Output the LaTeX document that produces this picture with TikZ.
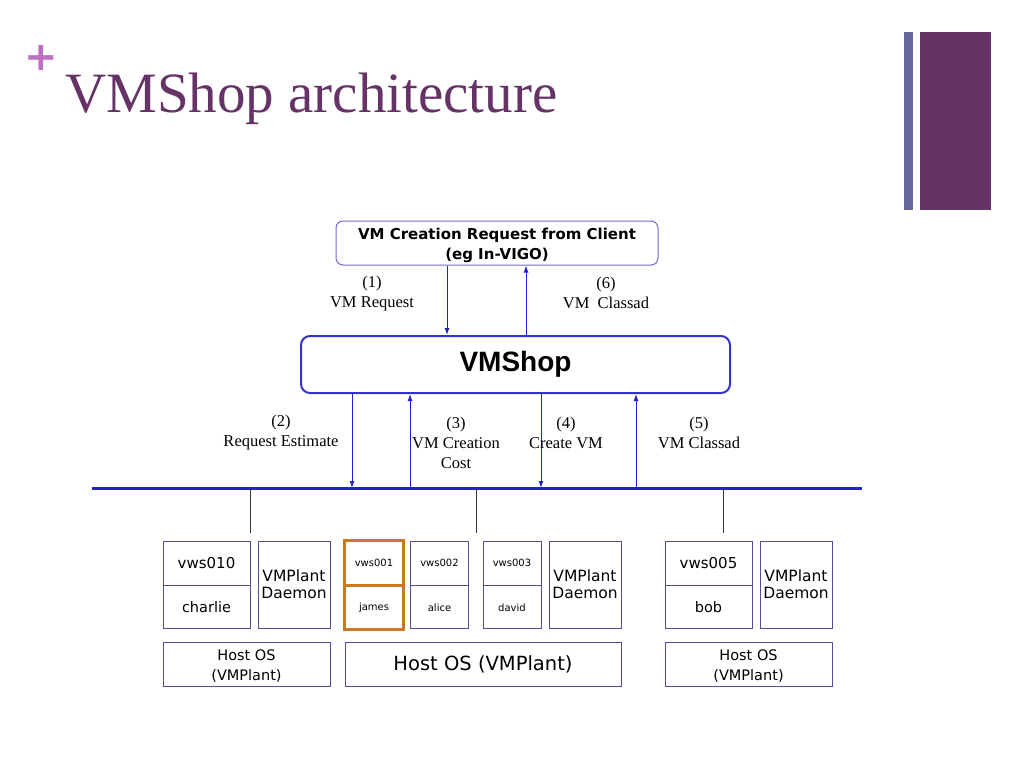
\documentclass[tikz,border=0pt]{standalone}
\usepackage{fontspec}
\setmainfont{Liberation Serif}
\setsansfont{DejaVu Sans}
\newfontfamily\arialfont{Liberation Sans}
\usetikzlibrary{arrows.meta,positioning}
\definecolor{titlepurple}{RGB}{102,51,102}
\definecolor{pluspink}{RGB}{187,112,192}
\definecolor{barblue}{RGB}{102,102,153}
\definecolor{clientblue}{RGB}{110,110,210}
\definecolor{shopblue}{RGB}{51,51,204}
\definecolor{busblue}{RGB}{34,34,204}
\definecolor{hostblue}{RGB}{80,80,150}
\definecolor{vmorange}{RGB}{204,119,34}
\newcommand{\fs}[2]{\fontsize{#1}{#2}\selectfont}
\tikzset{
  msg/.style={font=\fs{16.5}{20}, align=center, inner sep=0pt},
  flow/.style={draw=busblue, line width=1pt, -{Latex[length=7pt,width=5pt]}},
  hostbox/.style={draw=hostblue, line width=0.8pt, font=\sffamily\fs{14.5}{20}, align=center, inner sep=0pt},
  vmtop/.style={hostbox, minimum height=44pt},
  vmbot/.style={hostbox, minimum height=43pt},
  daemon/.style={hostbox, minimum width=72pt, minimum height=87pt, font=\sffamily\fs{15.5}{17}},
  drop/.style={draw=black!80, line width=0.6pt}
}
\begin{document}
\begin{tikzpicture}[x=1pt, y=-1pt]
\useasboundingbox[fill=white] (0,0) rectangle (1024,768);
%title and bars
\node[text=pluspink, font=\sffamily\bfseries\fs{40}{40}, inner sep=0pt] (plus) at (41,58){+};
\node[anchor=base west, text=titlepurple, font=\fs{57}{57}, inner sep=0pt] (title) at (65,112){VMShop architecture};
\fill[barblue] (904,32) rectangle (913,210);
\fill[titlepurple] (920,32) rectangle (991,210);
%client and shop
\node[draw=clientblue, line width=1pt, rounded corners=7pt, minimum width=322pt, minimum height=44pt,
  font=\sffamily\bfseries\fs{15}{20}, align=center, inner sep=0pt] (client) at (497,243)
  {\rule{0pt}{17pt}VM Creation Request from Client\\(eg In-VIGO)};
\node[draw=shopblue, line width=2pt, rounded corners=9pt, minimum width=429pt, minimum height=57pt,
  font=\arialfont\bfseries\fs{28}{28}, inner sep=0pt] (shop) at (515.5,364.5){VMShop};
\coordinate (c1) at (447,0);
\coordinate (c6) at (526,0);
\draw[flow] (client.south -| c1) -- (shop.north -| c1);
\draw[flow] (shop.north -| c6) -- (client.south -| c6);
\node[msg] (m1) at (372,294){(1)\\VM Request};
\node[msg] (m6) at (606,293){(6)\\VM\ \ Classad};
%bus
\coordinate (busw) at (92,488);
\coordinate (buse) at (862,488);
\draw[busblue, line width=3pt] (busw) -- (buse);
\foreach \nm/\x in {b2/352,b3/410,b4/541,b5/636}
  \coordinate (\nm) at (\x,488);
\draw[flow] (shop.south -| b2) -- (b2);
\draw[flow] (b3) -- (shop.south -| b3);
\draw[flow] (shop.south -| b4) -- (b4);
\draw[flow] (b5) -- (shop.south -| b5);
\node[msg] (m2) at (281,433){(2)\\Request Estimate};
\node[msg] (m3) at (456,443){(3)\\VM Creation\\Cost};
\node[msg] (m4) at (566,433){(4)\\Create VM};
\node[msg] (m5) at (699,433){(5)\\VM Classad};
%hosts
\node[vmtop, minimum width=87pt, font=\sffamily\fs{15}{15}] (vws010) at (206.5,563){vws010};
\node[vmbot, minimum width=87pt, below=0pt of vws010] (charlie){charlie};
\node[daemon] (dmn1) at (294,584.5){VMPlant\\Daemon};
\node[hostbox, minimum width=167pt, minimum height=44pt] (host1) at (246.5,664){\rule{0pt}{15pt}Host OS\\(VMPlant)};
\foreach \nm/\vm/\usr/\x/\clr in {vws001/vws001/james/374/vmorange, vws002/vws002/alice/439.5/hostblue, vws003/vws003/david/512/hostblue}{
  \node[vmtop, draw=\clr, minimum width=58pt, font=\sffamily\fs{10}{10}] (\nm) at (\x,563){\vm};
  \node[vmbot, draw=\clr, minimum width=58pt, font=\sffamily\fs{10}{10}, below=0pt of \nm] (\usr){\usr};
}
\draw[vmorange, line width=3pt] (vws001.north west) rectangle (james.south east);
\draw[vmorange, line width=3pt] (vws001.south west) -- (vws001.south east);
\node[daemon] (dmn2) at (585,584.5){VMPlant\\Daemon};
\node[hostbox, minimum width=276pt, minimum height=44pt, font=\sffamily\fs{19.5}{20}] (host2) at (483,664){Host OS (VMPlant)};
\node[vmtop, minimum width=87pt, font=\sffamily\fs{15}{15}] (vws005) at (708.5,563){vws005};
\node[vmbot, minimum width=87pt, below=0pt of vws005] (bob){bob};
\node[daemon] (dmn3) at (796,584.5){VMPlant\\Daemon};
\node[hostbox, minimum width=167pt, minimum height=44pt] (host3) at (748.5,664){\rule{0pt}{15pt}Host OS\\(VMPlant)};
%drops from bus
\foreach \x in {250,476,723}
  \draw[drop] (\x,488) -- (\x,533);
\end{tikzpicture}
\end{document}
